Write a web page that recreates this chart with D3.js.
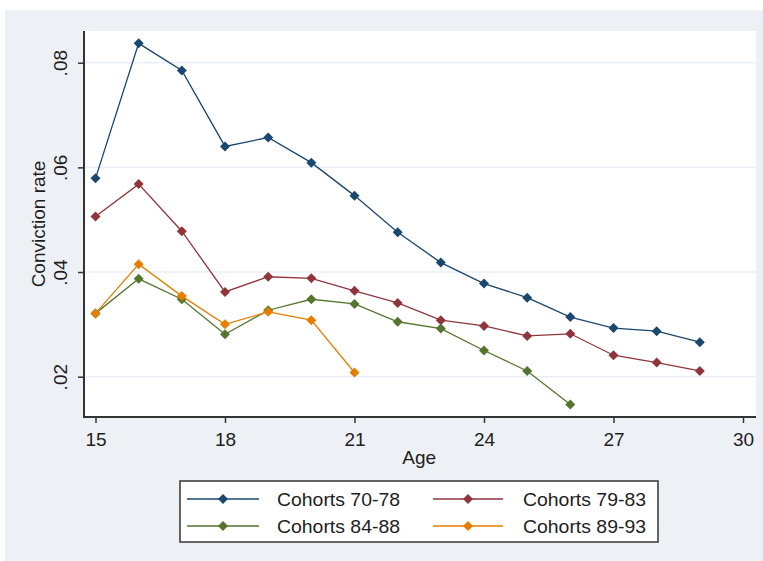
<!DOCTYPE html>
<html>
<head>
<meta charset="utf-8">
<script src="https://cdn.jsdelivr.net/npm/d3@7"></script>
<style>
  body { margin: 0; background: #ffffff; }
  text { font-family: "Liberation Sans", Arial, sans-serif; fill: #1e1e1e; }
</style>
</head>
<body>
<div id="chart"></div>
<script>

// ages on the x axis
var ages = [15, 16, 17, 18, 19, 20, 21, 22, 23, 24, 25, 26, 27, 28, 29];

// conviction rate per cohort group
var cohorts7078 = [0.0579, 0.0837, 0.0785, 0.0640, 0.0657, 0.0609, 0.0546, 0.0476,
                   0.0418, 0.0378, 0.0351, 0.0314, 0.0293, 0.0287, 0.0266];
var cohorts7983 = [0.0506, 0.0568, 0.0478, 0.0362, 0.0391, 0.0388, 0.0364, 0.0341,
                   0.0308, 0.0297, 0.0278, 0.0282, 0.0241, 0.0227, 0.0211];
var cohorts8488 = [0.0321, 0.0387, 0.0348, 0.0281, 0.0327, 0.0348, 0.0339, 0.0305,
                   0.0292, 0.0250, 0.0211, 0.0147];
var cohorts8993 = [0.0321, 0.0415, 0.0354, 0.0300, 0.0324, 0.0308, 0.0208];

var seriesNames = ["Cohorts 70-78", "Cohorts 79-83", "Cohorts 84-88", "Cohorts 89-93"];
var seriesColors = ["#1a476f", "#90353b", "#55752f", "#e37e00"];

var xTicks = [15, 18, 21, 24, 27, 30];
var yTicks = [0.02, 0.04, 0.06, 0.08];
var yTickLabels = [".02", ".04", ".06", ".08"];

var width = 763, height = 561;

var svg = d3.select("#chart").append("svg")
    .attr("width", width)
    .attr("height", height);

// outer graph region
svg.append("rect")
    .attr("x", 5).attr("y", 10)
    .attr("width", width - 5).attr("height", height - 10)
    .attr("fill", "#edf0f5");

// plot region
var plot = {left: 84, top: 31, right: 756, bottom: 417};
svg.append("rect")
    .attr("x", plot.left).attr("y", plot.top)
    .attr("width", plot.right - plot.left)
    .attr("height", plot.bottom - plot.top)
    .attr("fill", "#ffffff");

var x = d3.scaleLinear().domain([15, 30]).range([95.5, 743]);
var y = d3.scaleLinear().domain([0.02, 0.08]).range([376.7, 62.7]);

// gridlines
svg.append("g").selectAll("line")
    .data(yTicks)
    .enter()
    .append("line")
    .attr("x1", plot.left).attr("x2", plot.right)
    .attr("y1", function(d){ return y(d); })
    .attr("y2", function(d){ return y(d); })
    .attr("stroke", "#e9eff6")
    .attr("stroke-width", 1.5);

// x axis
var xAxis = d3.axisBottom(x)
    .tickValues(xTicks)
    .tickSize(6)
    .tickPadding(10)
    .tickFormat(d3.format("d"));
var gx = svg.append("g")
    .attr("transform", "translate(0," + plot.bottom + ")")
    .call(xAxis);
gx.select(".domain").remove();
gx.append("line")
    .attr("x1", plot.left - 1).attr("x2", plot.right)
    .attr("y1", 0).attr("y2", 0)
    .attr("stroke", "#333").attr("stroke-width", 2);
gx.selectAll(".tick line").attr("stroke", "#333").attr("stroke-width", 1.5);
gx.selectAll(".tick text")
    .attr("fill", "#1e1e1e")
    .style("font-size", "19px")
    .style("font-family", "'Liberation Sans', Arial, sans-serif");

// y axis
var yAxis = d3.axisLeft(y)
    .tickValues(yTicks)
    .tickSize(6)
    .tickFormat(function(d, i){ return yTickLabels[i]; });
var gy = svg.append("g")
    .attr("transform", "translate(" + plot.left + ",0)")
    .call(yAxis);
gy.select(".domain").remove();
gy.append("line")
    .attr("x1", 0).attr("x2", 0)
    .attr("y1", plot.top).attr("y2", plot.bottom)
    .attr("stroke", "#333").attr("stroke-width", 2);
gy.selectAll(".tick line").attr("stroke", "#333").attr("stroke-width", 1.5);
// stata style: labels rotated along the axis
gy.selectAll(".tick text")
    .attr("x", null).attr("dy", null)
    .attr("transform", "translate(-17.5,0) rotate(-90)")
    .attr("text-anchor", "middle")
    .attr("fill", "#1e1e1e")
    .style("font-size", "19px")
    .style("font-family", "'Liberation Sans', Arial, sans-serif");

// axis titles
svg.append("text")
    .attr("transform", "translate(45," + ((plot.top + plot.bottom) / 2) + ") rotate(-90)")
    .attr("text-anchor", "middle")
    .style("font-size", "19px")
    .text("Conviction rate");

svg.append("text")
    .attr("x", (x(15) + x(30)) / 2)
    .attr("y", 464)
    .attr("text-anchor", "middle")
    .style("font-size", "19px")
    .text("Age");

// lines and markers
var allSeries = [cohorts7078, cohorts7983, cohorts8488, cohorts8993];
var line = d3.line()
    .x(function(d){ return x(d.age); })
    .y(function(d){ return y(d.rate); });
var diamond = d3.symbol().type(d3.symbolSquare).size(50);

allSeries.forEach(function(values, i){
    var pts = values.map(function(v, j){ return {age: ages[j], rate: v}; });
    var g = svg.append("g");
    g.append("path")
        .datum(pts)
        .attr("d", line)
        .attr("fill", "none")
        .attr("stroke", seriesColors[i])
        .attr("stroke-width", 1.3);
    g.selectAll("path.pt")
        .data(pts)
        .enter()
        .append("path")
        .attr("class", "pt")
        .attr("d", diamond)
        .attr("transform", function(d){
            return "translate(" + x(d.age) + "," + y(d.rate) + ") rotate(45)";
        })
        .attr("fill", seriesColors[i]);
});

// legend
var legend = svg.append("g");
legend.append("rect")
    .attr("x", 180).attr("y", 481)
    .attr("width", 478).attr("height", 61)
    .attr("fill", "#ffffff")
    .attr("stroke", "#333")
    .attr("stroke-width", 1.5);

var legendPos = [
    {lx1: 187, lx2: 259, tx: 277, y: 499},
    {lx1: 433, lx2: 503, tx: 523, y: 499},
    {lx1: 187, lx2: 259, tx: 277, y: 526},
    {lx1: 433, lx2: 503, tx: 523, y: 526}
];

seriesNames.forEach(function(name, i){
    var p = legendPos[i];
    legend.append("line")
        .attr("x1", p.lx1).attr("x2", p.lx2)
        .attr("y1", p.y).attr("y2", p.y)
        .attr("stroke", seriesColors[i])
        .attr("stroke-width", 1.5);
    legend.append("path")
        .attr("d", diamond)
        .attr("transform", "translate(" + ((p.lx1 + p.lx2) / 2) + "," + p.y + ") rotate(45)")
        .attr("fill", seriesColors[i]);
    // labels in the original are drawn a bit wider than the font
    legend.append("text")
        .attr("x", p.tx)
        .attr("y", p.y + 7)
        .attr("textLength", 123)
        .attr("lengthAdjust", "spacingAndGlyphs")
        .style("font-size", "19px")
        .text(name);
});

</script>
</body>
</html>
